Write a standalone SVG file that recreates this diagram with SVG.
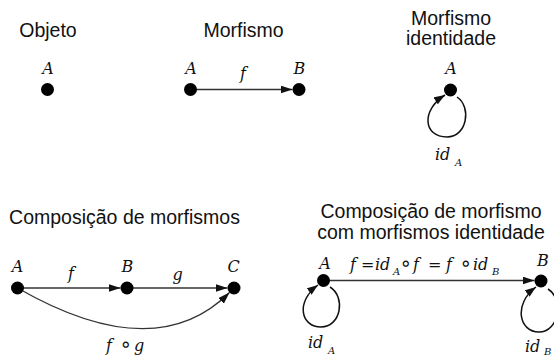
<svg xmlns="http://www.w3.org/2000/svg" width="554" height="356" viewBox="0 0 554 356">
<style>
.h{font-family:"Liberation Sans",Arial,sans-serif;font-size:19.5px;fill:#111;text-anchor:middle}
.m{font-family:"DejaVu Serif",serif;font-style:italic;font-size:16px;fill:#111}
.c{text-anchor:middle}
.s{font-size:10px}
.op{font-style:normal}
.ring{font-family:"DejaVu Sans",sans-serif;font-style:normal;font-size:20px;fill:#111}
.dot{fill:#000}
.e{fill:none;stroke:#333;stroke-width:1.3}
.l{fill:none;stroke:#111;stroke-width:1.5}
</style>
<defs>
<marker id="ah" markerUnits="userSpaceOnUse" markerWidth="13" markerHeight="9" refX="12" refY="4" orient="auto">
<path d="M0,0 L12,4 L0,8 z" fill="#111"/>
</marker>
<marker id="ahs" markerUnits="userSpaceOnUse" markerWidth="12" markerHeight="9" refX="11" refY="4" orient="auto">
<path d="M0,0 L11,4 L0,8 z" fill="#111"/>
</marker>
</defs>

<text class="h" x="48" y="37">Objeto</text>
<text class="h" x="243.5" y="37">Morfismo</text>
<text class="h" x="451" y="25">Morfismo</text>
<text class="h" x="451" y="45">identidade</text>
<text class="h" x="124.5" y="224">Composição de morfismos</text>
<text class="h" x="431" y="218">Composição de morfismo</text>
<text class="h" x="431" y="238.5">com morfismos identidade</text>

<g id="connectors">
<path class="e" d="M190.5,89.5 L292.5,89.5" marker-end="url(#ah)"/>
<text class="m c" x="243" y="79">f</text>

<path class="l" d="M457,97 C472,107 467,137 447,137 C423,137 421,110 445,95" marker-end="url(#ahs)"/>
<text class="m" x="435" y="160">id</text>
<text class="m s" x="455" y="166">A</text>

<path class="e" d="M17.5,288 L120.5,288" marker-end="url(#ah)"/>
<text class="m c" x="71" y="279">f</text>
<path class="e" d="M127.5,288 L227.5,288" marker-end="url(#ah)"/>
<text class="m c" x="177.5" y="280">g</text>
<path class="e" d="M17.5,288 Q155,367 229.5,292.5" marker-end="url(#ah)"/>
<text class="m" x="106" y="351">f</text>
<text class="ring" x="119.5" y="351">∘</text>
<text class="m" x="134" y="351">g</text>

<path class="e" d="M323.5,280.5 L534.5,280.5" marker-end="url(#ah)"/>
<text class="m" x="350" y="270">f</text>
<text class="m op" x="361" y="270">=</text>
<text class="m" x="375" y="270">id</text>
<text class="m s" x="393" y="275">A</text>
<text class="ring" x="399.5" y="270">∘</text>
<text class="m" x="413" y="270">f</text>
<text class="m op" x="428" y="270">=</text>
<text class="m" x="446" y="270">f</text>
<text class="ring" x="459.5" y="270">∘</text>
<text class="m" x="473" y="270">id</text>
<text class="m s" x="492" y="275">B</text>

<path class="l" d="M330,287 C346,297 341,327 321,327 C301,327 295,302 318,285" marker-end="url(#ahs)"/>
<text class="m" x="308" y="348">id</text>
<text class="m s" x="328" y="354">A</text>
<path class="l" d="M548,289 C564,299 559,332 539,332 C519,332 513,304 536,287" marker-end="url(#ahs)"/>
<text class="m" x="525" y="352">id</text>
<text class="m s" x="544" y="355">B</text>
</g>

<g id="obj-A"><circle class="dot" cx="47.5" cy="89.5" r="6.5"/><text class="m c" x="48" y="73.5">A</text></g>
<g id="morph-A"><circle class="dot" cx="190.5" cy="89.5" r="6.5"/><text class="m c" x="191" y="74">A</text></g>
<g id="morph-B"><circle class="dot" cx="299" cy="89.5" r="6.5"/><text class="m c" x="299.5" y="74">B</text></g>
<g id="ident-A"><circle class="dot" cx="450.5" cy="90" r="6.5"/><text class="m c" x="451" y="74">A</text></g>
<g id="comp-A"><circle class="dot" cx="17.5" cy="288" r="6.5"/><text class="m c" x="17.5" y="272">A</text></g>
<g id="comp-B"><circle class="dot" cx="127" cy="288" r="6.5"/><text class="m c" x="127.5" y="272">B</text></g>
<g id="comp-C"><circle class="dot" cx="234" cy="288" r="6.5"/><text class="m c" x="233.5" y="272">C</text></g>
<g id="idc-A"><circle class="dot" cx="323.5" cy="280.5" r="6.5"/><text class="m c" x="325" y="269">A</text></g>
<g id="idc-B"><circle class="dot" cx="541" cy="281" r="6.5"/><text class="m c" x="543" y="266">B</text></g>
</svg>
